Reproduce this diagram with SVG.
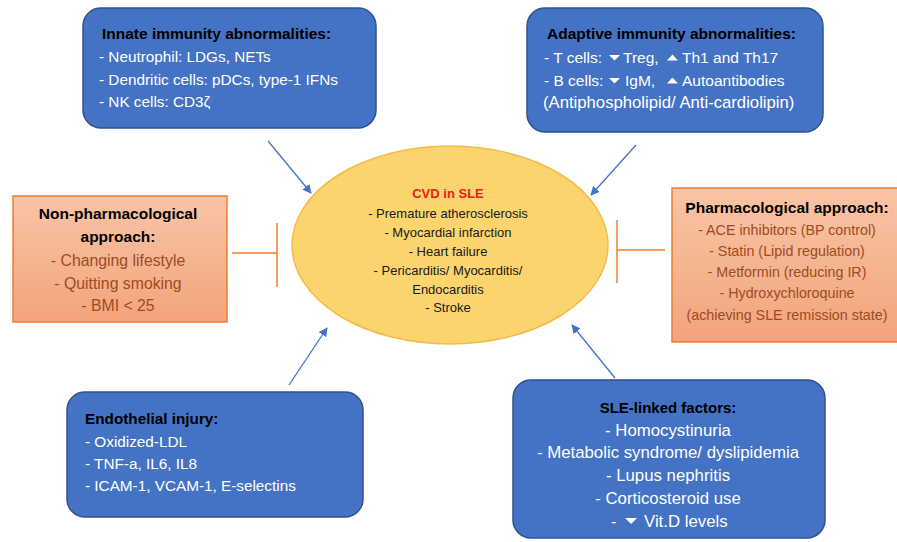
<svg xmlns="http://www.w3.org/2000/svg" width="897" height="542" viewBox="0 0 897 542">
<defs>
<style>
text{font-family:"Liberation Sans",Arial,sans-serif;font-size:14px;}
.blue{fill:#4472C4;stroke:#2F528F;stroke-width:1.5;}
.sal{fill:url(#salg);stroke:#ED7D31;stroke-width:1.5;}
.tt{font-weight:bold;fill:#000;}
.w{fill:#fff;}
.br{fill:#9E4B22;}
.c{text-anchor:middle;}
.ell{font-size:13px;fill:#1a1a1a;}
.arr{stroke:#4472C4;stroke-width:1.3;fill:none;marker-end:url(#ah);}
.tb{stroke:#ED7D31;stroke-width:1.5;fill:none;}
</style>
<linearGradient id="salg" x1="0" y1="0" x2="0" y2="1">
<stop offset="0" stop-color="#F8C5A6"/>
<stop offset="1" stop-color="#F3A47C"/>
</linearGradient>
<marker id="ah" viewBox="0 0 10 10" refX="9" refY="5" markerWidth="9" markerHeight="9" markerUnits="userSpaceOnUse" orient="auto">
<path d="M0,0 L10,5 L0,10 Z" fill="#4472C4"/>
</marker>
</defs>
<rect width="897" height="542" fill="#fff"/>

<g id="innate">
<rect class="blue" x="83" y="8" width="293" height="120" rx="18"/>
<text class="tt" x="102" y="39" style="font-size:15.5px">Innate immunity abnormalities:</text>
<text class="w" x="99" y="62" style="font-size:15.3px">- Neutrophil: LDGs, NETs</text>
<text class="w" x="99" y="85" style="font-size:15.3px">- Dendritic cells: pDCs, type-1 IFNs</text>
<text class="w" x="99" y="107" style="font-size:15.3px">- NK cells: CD3ζ</text>
</g>

<g id="adaptive">
<rect class="blue" x="527" y="8" width="296" height="124" rx="18"/>
<text class="tt" x="547" y="39" style="font-size:15.5px">Adaptive immunity abnormalities:</text>
<text class="w" x="544" y="63" style="font-size:15.5px">- T cells:</text>
<text class="w" x="623" y="63" style="font-size:15.5px">Treg,</text>
<text class="w" x="682" y="63" style="font-size:15.5px">Th1 and Th17</text>
<text class="w" x="544" y="86" style="font-size:15.5px">- B cells:</text>
<text class="w" x="625" y="86" style="font-size:15.5px">IgM,</text>
<text class="w" x="682" y="86" style="font-size:15.5px">Autoantibodies</text>
<text class="w" x="543" y="108" style="font-size:16.7px">(Antiphospholipid/ Anti-cardiolipin)</text>
<polygon fill="#fff" points="609,55 620,55 614.5,60.5"/>
<polygon fill="#fff" points="667,60.5 678,60.5 672.5,54.5"/>
<polygon fill="#fff" points="609,78 620,78 614.5,83.5"/>
<polygon fill="#fff" points="667,83.5 678,83.5 672.5,77.5"/>
</g>

<g id="cvd">
<ellipse cx="450" cy="245" rx="158" ry="99" fill="#FCD46E" stroke="#F2BB4A" stroke-width="1.5"/>
<text class="c" x="448" y="198" style="font-weight:bold;fill:#E8201A;font-size:13px">CVD in SLE</text>
<text class="c ell" x="448" y="218">- Premature atherosclerosis</text>
<text class="c ell" x="448" y="237">- Myocardial infarction</text>
<text class="c ell" x="448" y="256">- Heart failure</text>
<text class="c ell" x="448" y="275">- Pericarditis/ Myocarditis/</text>
<text class="c ell" x="448" y="294">Endocarditis</text>
<text class="c ell" x="448" y="312">- Stroke</text>
</g>

<g id="nonpharm">
<rect class="sal" x="13" y="196" width="214" height="126"/>
<text class="tt c" x="118" y="219" style="font-size:15.5px">Non-pharmacological</text>
<text class="tt c" x="118" y="242" style="font-size:15.5px">approach:</text>
<text class="br c" x="118" y="266" style="font-size:15.8px">- Changing lifestyle</text>
<text class="br c" x="118" y="289" style="font-size:15.8px">- Quitting smoking</text>
<text class="br c" x="118" y="311" style="font-size:15.8px">- BMI &lt; 25</text>
</g>

<g id="pharm">
<rect class="sal" x="672" y="188" width="230" height="154"/>
<text class="tt c" x="787" y="213" style="font-size:15.5px">Pharmacological approach:</text>
<text class="br c" x="787" y="235" style="font-size:14.3px">- ACE inhibitors (BP control)</text>
<text class="br c" x="787" y="256" style="font-size:14.3px">- Statin (Lipid regulation)</text>
<text class="br c" x="787" y="277" style="font-size:14.3px">- Metformin (reducing IR)</text>
<text class="br c" x="787" y="298" style="font-size:14.3px">- Hydroxychloroquine</text>
<text class="br c" x="787" y="320" style="font-size:14.3px">(achieving SLE remission state)</text>
</g>

<g id="endothelial">
<rect class="blue" x="67" y="392" width="296" height="125" rx="18"/>
<text class="tt" x="85" y="424" style="font-size:15.3px">Endothelial injury:</text>
<text class="w" x="85" y="447" style="font-size:15.3px">- Oxidized-LDL</text>
<text class="w" x="85" y="469" style="font-size:15.3px">- TNF-a, IL6, IL8</text>
<text class="w" x="85" y="491" style="font-size:15.3px">- ICAM-1, VCAM-1, E-selectins</text>
</g>

<g id="slelinked">
<rect class="blue" x="513" y="380" width="312" height="158" rx="18"/>
<text class="tt c" x="668" y="413" style="font-size:15px">SLE-linked factors:</text>
<text class="w c" x="668" y="436" style="font-size:16.8px">- Homocystinuria</text>
<text class="w c" x="668" y="458" style="font-size:16.8px">- Metabolic syndrome/ dyslipidemia</text>
<text class="w c" x="668" y="481" style="font-size:16.8px">- Lupus nephritis</text>
<text class="w c" x="668" y="504" style="font-size:16.8px">- Corticosteroid use</text>
<text class="w" x="611" y="527" style="font-size:16.8px">-</text>
<text class="w" x="644" y="527" style="font-size:16.8px">Vit.D levels</text>
<polygon fill="#fff" points="625,518 637,518 631,524"/>
</g>

<g id="connectors">
<line class="arr" x1="268" y1="141" x2="311" y2="193"/>
<line class="arr" x1="636" y1="145" x2="591" y2="195"/>
<line class="arr" x1="289" y1="385" x2="327" y2="328"/>
<line class="arr" x1="615" y1="378" x2="572" y2="325"/>
<path class="tb" d="M232,253 H277 M277,223 V287"/>
<path class="tb" d="M665,250 H617 M617,220 V283"/>
</g>
</svg>
